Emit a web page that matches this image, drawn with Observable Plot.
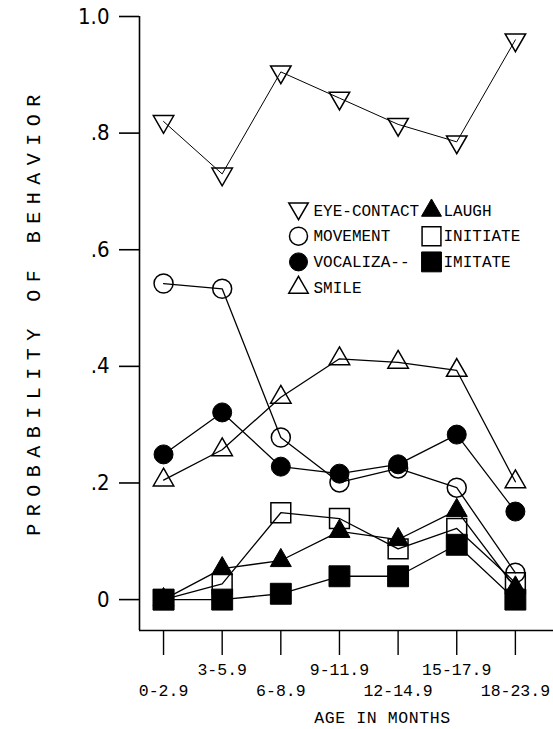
<!DOCTYPE html>
<html>
<head>
<meta charset="utf-8">
<script src="https://cdn.jsdelivr.net/npm/d3@7"></script>
<script src="https://cdn.jsdelivr.net/npm/@observablehq/plot@0.6"></script>
<style>
  html, body { margin: 0; padding: 0; background: #fff; }
  #chart svg { display: block; }
</style>
</head>
<body>
<div id="chart"></div>
<script>
// ---- data ----
const categories = ["0-2.9", "3-5.9", "6-8.9", "9-11.9", "12-14.9", "15-17.9", "18-23.9"];
const eyeContact   = [0.820, 0.730, 0.905, 0.860, 0.815, 0.785, 0.960];
const movement     = [0.542, 0.533, 0.278, 0.201, 0.225, 0.192, 0.046];
const vocalization = [0.249, 0.321, 0.228, 0.216, 0.232, 0.283, 0.151];
const smile        = [0.205, 0.257, 0.347, 0.413, 0.407, 0.393, 0.202];
const laugh        = [0.000, 0.053, 0.067, 0.117, 0.103, 0.153, 0.020];
const initiate     = [0.000, 0.027, 0.149, 0.139, 0.087, 0.122, 0.029];
const imitate      = [0.000, 0.000, 0.010, 0.040, 0.040, 0.094, 0.000];
const seriesNames  = ["EYE-CONTACT", "MOVEMENT", "VOCALIZA--", "SMILE", "LAUGH", "INITIATE", "IMITATE"];
const yTicks       = [0, 0.2, 0.4, 0.6, 0.8, 1.0];
const yTickLabels  = ["0", ".2", ".4", ".6", ".8", "1.0"];
const yTitle = "PROBABILITY OF BEHAVIOR";
const xTitle = "AGE IN MONTHS";

// ---- styles ----
const seriesValues = [eyeContact, movement, vocalization, smile, laugh, initiate, imitate];
const styles = {
  "EYE-CONTACT": {symbol: "triangle", rotate: 180, fill: "none", r: 7.6},
  "MOVEMENT":    {symbol: "circle",   rotate: 0,   fill: "none", r: 9.5},
  "VOCALIZA--":  {symbol: "circle",   rotate: 0,   fill: "black", r: 9.5},
  "SMILE":       {symbol: "triangle", rotate: 0,   fill: "none", r: 7.6},
  "LAUGH":       {symbol: "triangle", rotate: 0,   fill: "black", r: 7.8},
  "INITIATE":    {symbol: "square",   rotate: 0,   fill: "none", r: 11.2},
  "IMITATE":     {symbol: "square",   rotate: 0,   fill: "black", r: 11.8}
};

const rows = [];
seriesNames.forEach((s, k) => seriesValues[k].forEach((v, i) => rows.push({series: s, i, v})));

const W = 553, H = 729;
const mL = 139, mR = 0, mT = 16, mB = 99;
const xDomain = [-0.41, 6.65];
const yDomain = [-0.053, 1];
const monoFont = "'Liberation Mono', 'DejaVu Sans Mono', monospace";
const numFont = "'Liberation Sans Narrow', 'DejaVu Sans Condensed', 'Liberation Sans', sans-serif";

const marks = [];
// frame lines (left and bottom)
marks.push(Plot.ruleX([xDomain[0]], {stroke: "black", strokeWidth: 1.6}));
marks.push(Plot.ruleY([yDomain[0]], {stroke: "black", strokeWidth: 1.6}));

// axes
marks.push(Plot.axisY({ticks: yTicks, tickFormat: (d) => yTickLabels[yTicks.indexOf(d)], tickSize: 20, tickPadding: 10,
  fontSize: 22, fontFamily: numFont, strokeWidth: 1.6, label: null}));
const idx = categories.map((c, i) => i);
marks.push(Plot.axisX({ticks: idx, tickSize: 25, tickFormat: () => "", strokeWidth: 1.4, label: null}));
marks.push(Plot.axisX({ticks: idx.filter(i => i % 2 === 1), tickSize: 0, tickPadding: 33, tickFormat: (i) => categories[i],
  fontSize: 16.5, fontFamily: monoFont, label: null}));
marks.push(Plot.axisX({ticks: idx.filter(i => i % 2 === 0), tickSize: 0, tickPadding: 54, tickFormat: (i) => categories[i],
  fontSize: 16.5, fontFamily: monoFont, label: null}));

// axis titles
marks.push(Plot.text([yTitle], {frameAnchor: "left", dx: -106, dy: -12, rotate: -90, text: d => d,
  fontSize: 20, fontFamily: monoFont, lineAnchor: "middle", textAnchor: "middle"}));
marks.push(Plot.text([xTitle], {frameAnchor: "bottom", dx: 36, dy: 87, text: d => d,
  fontSize: 16.5, fontFamily: monoFont, lineAnchor: "middle", textAnchor: "middle"}));

// series lines
for (const s of seriesNames) {
  marks.push(Plot.line(rows.filter(r => r.series === s), {x: "i", y: "v", stroke: "black", strokeWidth: s === "EYE-CONTACT" ? 1.0 : 1.3}));
}
// series markers
for (const s of seriesNames) {
  const st = styles[s];
  marks.push(Plot.dot(rows.filter(r => r.series === s), {x: "i", y: "v", symbol: st.symbol, r: st.r, rotate: st.rotate,
    fill: st.fill, stroke: "black", strokeWidth: st.fill === "none" ? 1.5 : 1}));
}

// legend (inside the plot area)
const legendCols = [
  {items: ["EYE-CONTACT", "MOVEMENT", "VOCALIZA--", "SMILE"], sx: 298 - mL, tx: 313 - mL},
  {items: ["LAUGH", "INITIATE", "IMITATE"], sx: 431 - mL, tx: 443 - mL}
];
const legendRowY = (k) => 210 - mT + k * 25.7;
legendCols.forEach(col => col.items.forEach((s, k) => {
  const st = styles[s];
  marks.push(Plot.dot([s], {frameAnchor: "top-left", dx: col.sx, dy: legendRowY(k) + (st.rotate ? -2 : 0),
    symbol: st.symbol, r: st.r * 0.95, rotate: st.rotate, fill: st.fill, stroke: "black", strokeWidth: st.fill === "none" ? 1.5 : 1}));
  marks.push(Plot.text([s], {frameAnchor: "top-left", dx: col.tx, dy: legendRowY(k), text: d => d,
    textAnchor: "start", lineAnchor: "middle", fontSize: 16, fontFamily: monoFont}));
}));

const chart = Plot.plot({
  width: W, height: H,
  marginLeft: mL, marginRight: mR, marginTop: mT, marginBottom: mB,
  x: {type: "linear", domain: xDomain, axis: null},
  y: {type: "linear", domain: yDomain, axis: null},
  style: {background: "white", color: "black", fontFamily: monoFont, overflow: "visible"},
  marks
});
// wide letter spacing of the typed axis titles
d3.select(chart).selectAll("text").filter(function () { return this.textContent === yTitle; })
  .style("letter-spacing", "7.5px");
d3.select(chart).selectAll("text").filter(function () { return this.textContent === xTitle; })
  .style("letter-spacing", "0.6px");
document.getElementById("chart").appendChild(chart);
</script>
</body>
</html>
